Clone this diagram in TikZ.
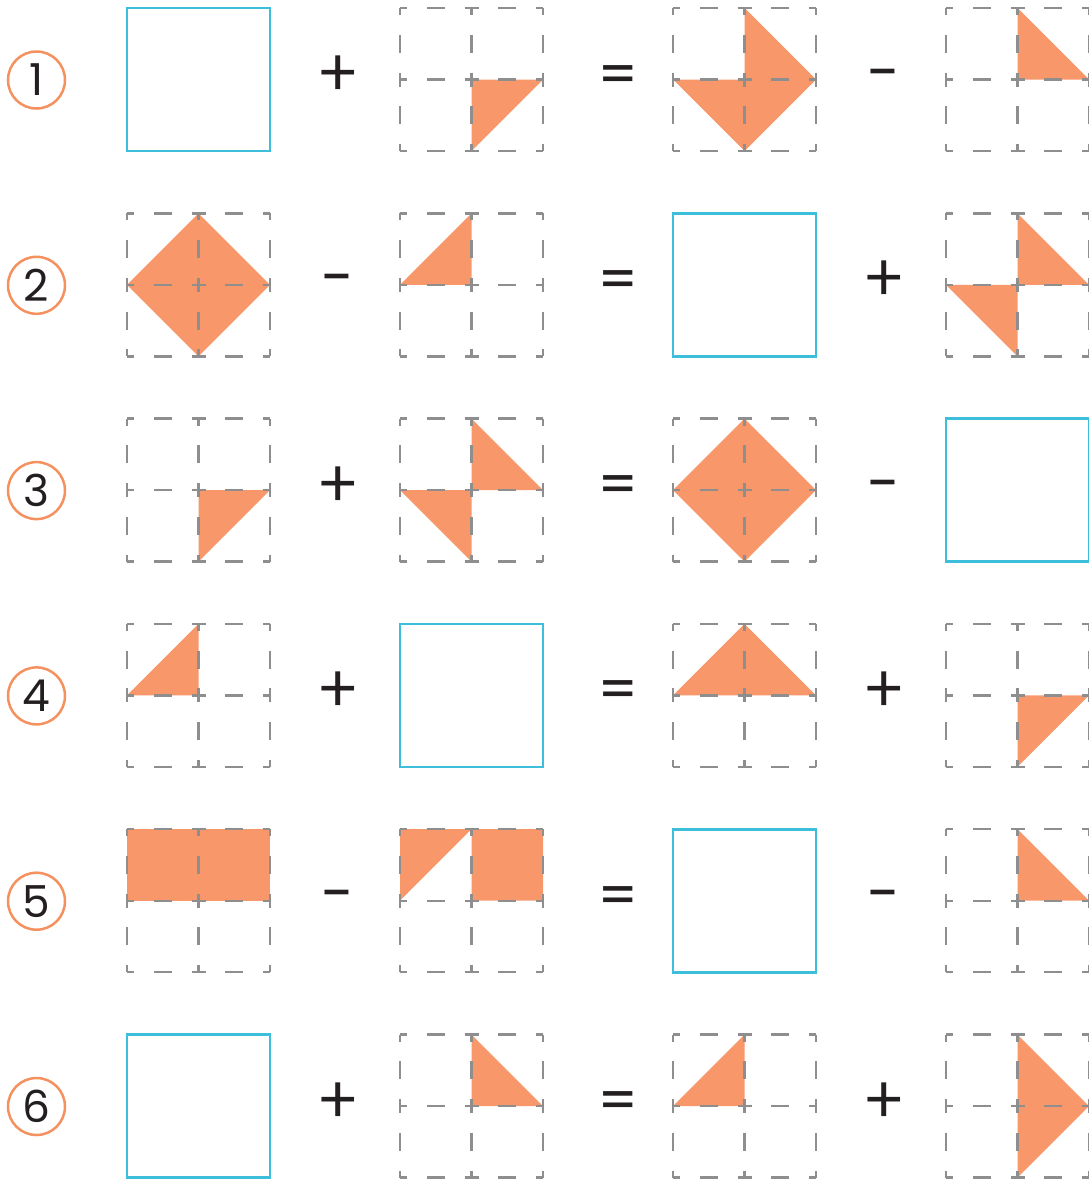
\documentclass[tikz,border=0pt]{standalone}
\usepackage{fontspec}
\setmainfont{Poppins}
\newfontfamily\opfont{Lato}
\definecolor{orng}{HTML}{F7976A}
\definecolor{orline}{HTML}{F4915E}
\definecolor{blu}{HTML}{3DBEDB}
\definecolor{grd}{HTML}{8E8E8E}
\definecolor{ink}{HTML}{231F20}
\tikzset{
  griddash/.style={draw=grd,line width=2.4pt,dash pattern=on 14pt off 19.75pt on 18pt off 19.75pt,dash phase=7pt},
  bluebox/.style={draw=blu,line width=2.6pt},
  piece/.style={fill=orng},
  numcirc/.style={circle,draw=orline,line width=2.5pt,minimum size=57pt,inner sep=0pt,text=ink,font=\fontsize{44}{44}\selectfont},
  opnode/.style={text=ink,inner sep=0pt,font=\opfont\fontsize{68}{68}\selectfont},
  minusnode/.style={text=ink,inner sep=0pt,font=\fontsize{60}{60}\selectfont}
}
\newcommand\gridat[2]{%
  \begin{scope}[shift={(#1,#2)},x=71.5pt,y=-71.5pt]
    \foreach \a in {0,1,2}{\foreach \b in {0,1}{
      \draw[griddash] (\b,\a) -- (\b+1,\a);
      \draw[griddash] (\a,\b) -- (\a,\b+1);
    }}
  \end{scope}}
\newcommand\pieceat[3]{%
  \begin{scope}[shift={(#1,#2)},x=71.5pt,y=-71.5pt]
    \fill[piece] #3;
  \end{scope}}
\newcommand\blueat[2]{\draw[bluebox] (#1,#2) rectangle ++(143,143);}
\newcommand\plusat[3]{\node[opnode,anchor=base] (#1) at (#2,#3+87.5) {+};}
\newcommand\minusat[3]{\node[minusnode,anchor=base] (#1) at (#2,#3+85.6) {-};}
\newcommand\eqat[3]{\node[opnode,anchor=base] (#1) at (#2,#3+88) {=};}
\begin{document}
\begin{tikzpicture}[x=1pt,y=-1pt]
\useasboundingbox (0,0) rectangle (1089,1181);
\def\cA{127}\def\cB{400}\def\cC{673}\def\cD{946}
\def\rA{8}\def\rB{213.3}\def\rC{418.6}\def\rD{623.9}\def\rE{829.2}\def\rF{1034.5}
% number circles
\foreach \n/\y in {1/\rA,2/\rB,3/\rC,4/\rD,5/\rE,6/\rF}{
  \node[numcirc] (num\n) at (36.5,\y+72) {\n};
}
% operators
\foreach \r/\y/\p/\q in {1/\rA/plus/minus,2/\rB/minus/plus,3/\rC/plus/minus,4/\rD/plus/plus,5/\rE/minus/minus,6/\rF/plus/plus}{
  \csname\p at\endcsname{opa\r}{338}{\y}
  \eqat{opb\r}{618}{\y}
  \csname\q at\endcsname{opc\r}{884}{\y}
}
% Row 1
\blueat{\cA}{\rA}
\pieceat{\cB}{\rA}{(1,1)--(2,1)--(1,2)--cycle}
\pieceat{\cC}{\rA}{(1,0)--(2,1)--(1,2)--(0,1)--(1,1)--cycle}
\pieceat{\cD}{\rA}{(1,0)--(2,1)--(1,1)--cycle}
\gridat{\cB}{\rA}\gridat{\cC}{\rA}\gridat{\cD}{\rA}
% Row 2
\pieceat{\cA}{\rB}{(1,0)--(2,1)--(1,2)--(0,1)--cycle}
\pieceat{\cB}{\rB}{(0,1)--(1,0)--(1,1)--cycle}
\blueat{\cC}{\rB}
\pieceat{\cD}{\rB}{(1,0)--(2,1)--(1,1)--cycle (0,1)--(1,1)--(1,2)--cycle}
\gridat{\cA}{\rB}\gridat{\cB}{\rB}\gridat{\cD}{\rB}
% Row 3
\pieceat{\cA}{\rC}{(1,1)--(2,1)--(1,2)--cycle}
\pieceat{\cB}{\rC}{(1,0)--(2,1)--(1,1)--cycle (0,1)--(1,1)--(1,2)--cycle}
\pieceat{\cC}{\rC}{(1,0)--(2,1)--(1,2)--(0,1)--cycle}
\blueat{\cD}{\rC}
\gridat{\cA}{\rC}\gridat{\cB}{\rC}\gridat{\cC}{\rC}
% Row 4
\pieceat{\cA}{\rD}{(0,1)--(1,0)--(1,1)--cycle}
\blueat{\cB}{\rD}
\pieceat{\cC}{\rD}{(0,1)--(1,0)--(2,1)--cycle}
\pieceat{\cD}{\rD}{(1,1)--(2,1)--(1,2)--cycle}
\gridat{\cA}{\rD}\gridat{\cC}{\rD}\gridat{\cD}{\rD}
% Row 5
\pieceat{\cA}{\rE}{(0,0) rectangle (2,1)}
\pieceat{\cB}{\rE}{(0,0)--(1,0)--(0,1)--cycle (1,0) rectangle (2,1)}
\blueat{\cC}{\rE}
\pieceat{\cD}{\rE}{(1,0)--(2,1)--(1,1)--cycle}
\gridat{\cA}{\rE}\gridat{\cB}{\rE}\gridat{\cD}{\rE}
% Row 6
\blueat{\cA}{\rF}
\pieceat{\cB}{\rF}{(1,0)--(2,1)--(1,1)--cycle}
\pieceat{\cC}{\rF}{(0,1)--(1,0)--(1,1)--cycle}
\pieceat{\cD}{\rF}{(1,0)--(2,1)--(1,2)--cycle}
\gridat{\cB}{\rF}\gridat{\cC}{\rF}\gridat{\cD}{\rF}
\end{tikzpicture}
\end{document}
